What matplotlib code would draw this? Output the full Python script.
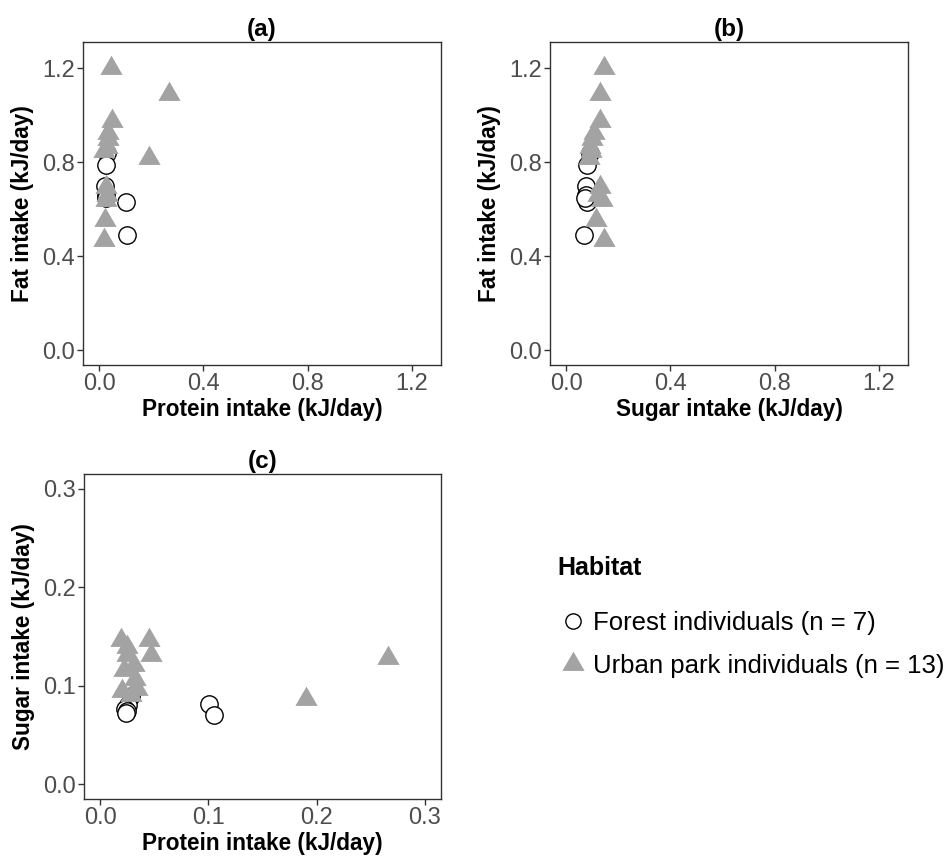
import matplotlib
matplotlib.use("Agg")
import matplotlib.pyplot as plt
from matplotlib.path import Path
from matplotlib.lines import Line2D

plt.rcParams['font.family'] = ['Liberation Sans', 'DejaVu Sans']

# Daily intake per individual (kJ/day)
forest_protein = [0.028, 0.026, 0.023, 0.025, 0.101, 0.105, 0.024]
forest_sugar = [0.090, 0.080, 0.076, 0.074, 0.081, 0.070, 0.072]
forest_fat = [0.84, 0.79, 0.70, 0.66, 0.63, 0.49, 0.65]

urban_protein = [0.045, 0.266, 0.047, 0.190, 0.019, 0.022, 0.025, 0.025,
                 0.031, 0.032, 0.034, 0.028, 0.020]
urban_sugar = [0.146, 0.128, 0.131, 0.087, 0.146, 0.116, 0.131, 0.139,
               0.121, 0.107, 0.097, 0.091, 0.095]
urban_fat = [1.20, 1.09, 0.975, 0.82, 0.47, 0.553, 0.694, 0.64,
             0.66, 0.925, 0.898, 0.865, 0.848]

legend_title = "Habitat"
forest_label = "Forest individuals (n = 7)"
urban_label = "Urban park individuals (n = 13)"

# equilateral triangle centred on its centroid
tri = Path([(-0.5, -0.2887), (0.5, -0.2887), (0.0, 0.5774), (-0.5, -0.2887)],
           [Path.MOVETO, Path.LINETO, Path.LINETO, Path.CLOSEPOLY])

W, H = 947, 857
fig = plt.figure(figsize=(W / 100, H / 100), dpi=100)

def box(l, t, r, b):
    return [l / W, 1 - b / H, (r - l) / W, (b - t) / H]

ax_a = fig.add_axes(box(83, 42, 441, 365))
ax_b = fig.add_axes(box(550, 42, 908, 365))
ax_c = fig.add_axes(box(84, 474, 441, 799))

tri_color = "#a3a3a3"
circ_ms = 12.5
tri_ms = 18.5

def draw(ax, fx, fy, ux, uy, title, xlabel, ylabel, ticks, lim):
    ax.plot(fx, fy, linestyle='none', marker='o', ms=circ_ms,
            mfc='white', mec='black', mew=1.0, zorder=3)
    ax.plot(ux, uy, linestyle='none', marker=tri, ms=tri_ms,
            mfc=tri_color, mec='none', zorder=4)
    ax.set_xlim(*lim)
    ax.set_ylim(*lim)
    ax.set_xticks(ticks)
    ax.set_yticks(ticks)
    ax.set_xticklabels([f"{t:.1f}" for t in ticks])
    ax.set_yticklabels([f"{t:.1f}" for t in ticks])
    ax.tick_params(axis='both', labelsize=17, labelcolor='#4d4d4d',
                   color='#333333', length=4, width=1, pad=2)
    for s in ax.spines.values():
        s.set_color('#333333')
        s.set_linewidth(1.0)
    ax.set_title(title, fontsize=17.5, fontweight='bold', pad=4)
    ax.set_xlabel(xlabel, fontsize=16.3, fontweight='bold', labelpad=2)
    ax.set_ylabel(ylabel, fontsize=16.3, fontweight='bold', labelpad=6)

big_ticks = [0.0, 0.4, 0.8, 1.2]
big_lim = (-0.0625, 1.3125)
small_ticks = [0.0, 0.1, 0.2, 0.3]
small_lim = (-0.015, 0.315)

draw(ax_a, forest_protein, forest_fat, urban_protein, urban_fat, "(a)",
     "Protein intake (kJ/day)", "Fat intake (kJ/day)", big_ticks, big_lim)
draw(ax_b, forest_sugar, forest_fat, urban_sugar, urban_fat, "(b)",
     "Sugar intake (kJ/day)", "Fat intake (kJ/day)", big_ticks, big_lim)
draw(ax_c, forest_protein, forest_sugar, urban_protein, urban_sugar, "(c)",
     "Protein intake (kJ/day)", "Sugar intake (kJ/day)", small_ticks, small_lim)

# legend: title as separate text, entries below it
fig.text(557 / W, 1 - 568 / H, legend_title, fontsize=18, fontweight='bold',
         ha='left', va='center')
handles = [
    Line2D([], [], linestyle='none', marker='o', ms=11, mfc='white',
           mec='black', mew=1.0, label=forest_label),
    Line2D([], [], linestyle='none', marker=tri, ms=18.5, mfc=tri_color,
           mec='none', label=urban_label),
]
leg = fig.legend(handles=handles, loc='center left',
                 bbox_to_anchor=(561 / W, 1 - 644.5 / H), frameon=False,
                 fontsize=18.5, handlelength=0.9, handletextpad=0.33,
                 labelspacing=0.72, borderaxespad=0, borderpad=0)

fig.savefig("out.png", dpi=100)
